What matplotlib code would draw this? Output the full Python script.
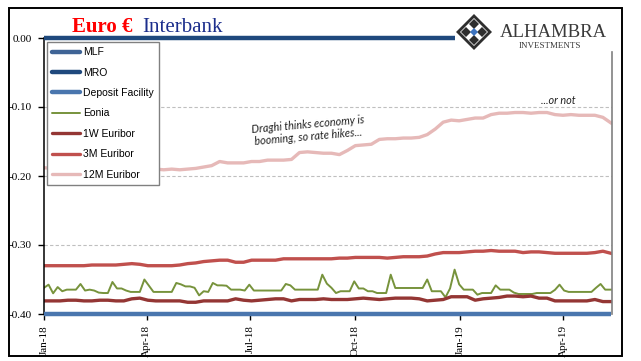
import numpy as np
import pandas as pd
import matplotlib
matplotlib.use("Agg")
import matplotlib.pyplot as plt
import matplotlib.dates as mdates
from matplotlib.patches import Rectangle, Polygon

# ---- data ----
weeks = pd.date_range("2018-01-01", periods=72, freq="7D")
eonia_days = pd.date_range("2018-01-01", periods=126, freq="4D")

mlf_rate = 0.25
mro_rate = 0.00
deposit_rate = -0.40

euribor_12m = [
    -0.188, -0.189, -0.190, -0.190, -0.190, -0.190, -0.191, -0.191, -0.191, -0.190,
    -0.190, -0.190, -0.190, -0.190, -0.190, -0.191, -0.190, -0.191, -0.190, -0.189,
    -0.187, -0.185, -0.179, -0.181, -0.181, -0.181, -0.179, -0.179, -0.177, -0.177,
    -0.177, -0.176, -0.166, -0.165, -0.166, -0.167, -0.167, -0.169, -0.163, -0.156,
    -0.155, -0.154, -0.147, -0.146, -0.146, -0.145, -0.145, -0.144, -0.140, -0.132,
    -0.122, -0.119, -0.120, -0.118, -0.116, -0.116, -0.111, -0.109, -0.109, -0.108,
    -0.108, -0.109, -0.108, -0.108, -0.111, -0.112, -0.111, -0.112, -0.112, -0.112,
    -0.115, -0.123,
]

euribor_3m = [
    -0.330, -0.330, -0.330, -0.330, -0.330, -0.330, -0.329, -0.329, -0.329, -0.329,
    -0.328, -0.327, -0.328, -0.330, -0.330, -0.330, -0.330, -0.329, -0.327, -0.326,
    -0.324, -0.323, -0.322, -0.322, -0.325, -0.325, -0.322, -0.322, -0.322, -0.322,
    -0.320, -0.320, -0.320, -0.320, -0.320, -0.320, -0.320, -0.319, -0.319, -0.318,
    -0.318, -0.318, -0.318, -0.319, -0.318, -0.317, -0.317, -0.317, -0.316, -0.313,
    -0.311, -0.311, -0.311, -0.310, -0.309, -0.309, -0.308, -0.309, -0.309, -0.309,
    -0.311, -0.310, -0.310, -0.311, -0.312, -0.312, -0.312, -0.312, -0.312, -0.311,
    -0.309, -0.312,
]

euribor_1w = [
    -0.381, -0.381, -0.381, -0.380, -0.380, -0.381, -0.381, -0.380, -0.380, -0.381,
    -0.381, -0.378, -0.377, -0.380, -0.381, -0.381, -0.381, -0.381, -0.383, -0.383,
    -0.381, -0.381, -0.381, -0.381, -0.378, -0.380, -0.381, -0.380, -0.379, -0.378,
    -0.378, -0.381, -0.379, -0.379, -0.379, -0.378, -0.379, -0.379, -0.379, -0.378,
    -0.377, -0.378, -0.379, -0.378, -0.377, -0.377, -0.377, -0.378, -0.381, -0.380,
    -0.379, -0.375, -0.375, -0.375, -0.380, -0.378, -0.377, -0.376, -0.374, -0.374,
    -0.375, -0.374, -0.377, -0.377, -0.381, -0.381, -0.381, -0.381, -0.381, -0.379,
    -0.382, -0.382,
]

eonia = [
    -0.362, -0.3575, -0.370, -0.361, -0.367, -0.3647, -0.3647, -0.3647, -0.3565, -0.366,
    -0.3647, -0.366, -0.369, -0.3696, -0.3696, -0.3536, -0.363, -0.363, -0.366, -0.368,
    -0.368, -0.368, -0.350, -0.359, -0.368, -0.368, -0.368, -0.368, -0.368, -0.355,
    -0.357, -0.360, -0.360, -0.362, -0.373, -0.367, -0.368, -0.355, -0.3585, -0.3585,
    -0.359, -0.3647, -0.3647, -0.3647, -0.366, -0.3575, -0.366, -0.366, -0.366, -0.366,
    -0.366, -0.366, -0.366, -0.3565, -0.3585, -0.3647, -0.3647, -0.3647, -0.3647, -0.3647,
    -0.3647, -0.343, -0.356, -0.362, -0.3696, -0.367, -0.367, -0.367, -0.3527, -0.363,
    -0.363, -0.367, -0.367, -0.3696, -0.3696, -0.3696, -0.343, -0.3623, -0.3623, -0.3623,
    -0.3623, -0.3623, -0.3623, -0.3623, -0.350, -0.367, -0.367, -0.367, -0.3758, -0.363,
    -0.3357, -0.357, -0.3647, -0.3647, -0.3647, -0.372, -0.3696, -0.3696, -0.3696, -0.3585,
    -0.3647, -0.3647, -0.3647, -0.369, -0.371, -0.371, -0.371, -0.371, -0.3696, -0.3696,
    -0.3696, -0.3696, -0.365, -0.3575, -0.366, -0.368, -0.368, -0.368, -0.368, -0.368,
    -0.368, -0.362, -0.3565, -0.3647, -0.3647, -0.3647,
]

series_labels = ["MLF", "MRO", "Deposit Facility", "Eonia", "1W Euribor", "3M Euribor", "12M Euribor"]
colors = ["#3F6496", "#1F497D", "#4A76AE", "#77933C", "#943634", "#C0504D", "#E6B9B8"]

W, H = 641, 361
fig = plt.figure(figsize=(W / 100, H / 100), dpi=100)
fig.patch.set_facecolor("white")

ax = fig.add_axes([44 / W, 1 - 314 / H, (612 - 44) / W, (314 - 38) / H])
ax.set_facecolor("white")

n = len(weeks)
ax.plot(weeks, [mlf_rate] * n, color=colors[0], lw=3.2, label=series_labels[0], solid_capstyle="butt")
ax.plot(weeks, [mro_rate] * n, color=colors[1], lw=3.2, label=series_labels[1], clip_on=False,
        solid_capstyle="butt", zorder=3)
ax.plot(weeks, [deposit_rate] * n, color=colors[2], lw=3.2, label=series_labels[2], clip_on=False,
        solid_capstyle="butt", zorder=3)
ax.plot(eonia_days, eonia, color=colors[3], lw=1.4, label=series_labels[3])
ax.plot(weeks, euribor_1w, color=colors[4], lw=2.4, label=series_labels[4])
ax.plot(weeks, euribor_3m, color=colors[5], lw=2.4, label=series_labels[5])
ax.plot(weeks, euribor_12m, color=colors[6], lw=2.4, label=series_labels[6])

x0 = pd.Timestamp("2018-01-01")
x1 = pd.Timestamp("2019-05-14")
ax.set_xlim(x0, x1)
ax.set_ylim(-0.40, 0.0)

ax.set_yticks([0.0, -0.1, -0.2, -0.3, -0.4])
ax.set_yticklabels(["0.00", "-0.10", "-0.20", "-0.30", "-0.40"],
                   fontfamily="Liberation Serif", fontsize=8)
for yv in [-0.1, -0.2, -0.3]:
    ax.axhline(yv, color="#BFBFBF", lw=0.8, ls=(0, (3, 2)), zorder=0)

ax.xaxis.set_major_locator(mdates.MonthLocator(bymonth=[1, 4, 7, 10]))
ax.xaxis.set_major_formatter(mdates.DateFormatter("%b-%y"))
for lab in ax.get_xticklabels():
    lab.set_rotation(90)
    lab.set_fontfamily("Liberation Serif")
    lab.set_fontsize(8)
ax.tick_params(axis="x", direction="out", length=4, width=1, pad=4)
ax.tick_params(axis="y", direction="out", length=4, width=1, pad=5)

for s in ["top", "right", "bottom"]:
    ax.spines[s].set_visible(False)
ax.spines["left"].set_linewidth(1.1)
ax.axvline(x1, ymin=0, ymax=(314 - 52) / 276, color="#808080", lw=1.2, clip_on=False)

leg = ax.legend(loc="upper left", bbox_to_anchor=(47 / W, 1 - 42 / H), bbox_transform=fig.transFigure,
                prop={"family": "Liberation Sans", "size": 7.5}, frameon=True, fancybox=False,
                edgecolor="#808080", framealpha=1, borderaxespad=0, handlelength=2.7,
                handletextpad=0.25, labelspacing=1.0, borderpad=0.5)
leg.get_frame().set_linewidth(1.0)
for h in leg.get_lines():
    h.set_solid_capstyle("round")

ax.text(0.465, 0.665, "Draghi thinks economy is\nbooming, so rate hikes...",
        transform=ax.transAxes, ha="center", va="center", rotation=5, fontstyle="italic",
        fontfamily="Lato", fontsize=7.8, color="#222222", linespacing=1.15)
ax.text(0.905, 0.755, "...or not", transform=ax.transAxes, ha="center", va="bottom",
        fontstyle="italic", fontfamily="Lato", fontsize=7.8, color="#222222")

# overlay in pixel coords: border, title, logo
ov = fig.add_axes([0, 0, 1, 1], zorder=5)
ov.set_xlim(0, W)
ov.set_ylim(H, 0)
ov.axis("off")
ov.patch.set_alpha(0)
ov.add_patch(Rectangle((9, 8), 613, 348, fill=False, edgecolor="black", lw=1.4))

ov.text(72, 32, "Euro €", color="#FF0000", fontweight="bold", fontfamily="Liberation Serif",
        fontsize=15, va="baseline", ha="left")
ov.text(142, 32, "Interbank", color="#1C2E8C", fontfamily="Liberation Serif",
        fontsize=15, va="baseline", ha="left")

# logo
ov.add_patch(Rectangle((455, 11), 165, 40, facecolor="white", edgecolor="none"))
cx, cy, r = 474, 32, 18
ov.add_patch(Polygon([(cx, cy - r), (cx + r, cy), (cx, cy + r), (cx - r, cy)],
                     closed=True, facecolor="#2E2E2E", edgecolor="none"))
r2 = 14
ov.add_patch(Polygon([(cx, cy - r2), (cx + r2, cy), (cx, cy + r2), (cx - r2, cy)],
                     closed=True, facecolor="white", edgecolor="none"))
for dx, dy in [(0, -8), (8, 0), (0, 8), (-8, 0)]:
    rr = 5
    ov.add_patch(Polygon([(cx + dx, cy + dy - rr), (cx + dx + rr, cy + dy), (cx + dx, cy + dy + rr),
                          (cx + dx - rr, cy + dy)], closed=True, facecolor="#2E2E2E", edgecolor="none"))
ov.add_patch(Polygon([(cx, cy - 4), (cx + 4, cy), (cx, cy + 4), (cx - 4, cy)],
                     closed=True, facecolor="#3D74C0", edgecolor="none"))
ov.text(500, 37, "ALHAMBRA", color="#3A3A3A", fontfamily="Liberation Serif", fontsize=13.5,
        va="baseline", ha="left")
ov.text(519, 48, "INVESTMENTS", color="#3A3A3A", fontfamily="Liberation Serif", fontsize=6.5,
        va="baseline", ha="left")

fig.savefig("out.png", dpi=100, facecolor="white")
